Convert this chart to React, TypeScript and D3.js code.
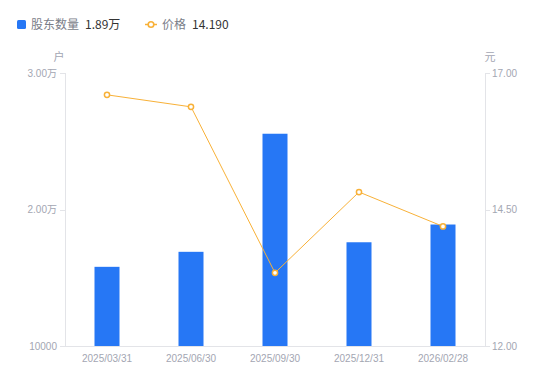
import React from "react";
import * as d3 from "d3";

const categories = ["2025/03/31", "2025/06/30", "2025/09/30", "2025/12/31", "2026/02/28"];
const holders = [15800, 16900, 25550, 17600, 18900];
const prices = [16.6, 16.38, 13.34, 14.82, 14.19];
const leftTicks = [10000, 20000, 30000];
const leftTickLabels = ["10000", "2.00万", "3.00万"];
const rightTicks = [12, 14.5, 17];
const rightTickLabels = ["12.00", "14.50", "17.00"];

const W = 550, H = 381;
const M = { left: 65, right: 485, top: 73, bottom: 346 };
const FONT = "'Noto Sans CJK SC', 'Noto Sans', sans-serif";
const AXFONT = "'Liberation Sans', Arial, 'Noto Sans CJK SC', sans-serif";
const BLUE = "#2677f5";
const ORANGE = "#f8b138";
const AXIS = "#e3e4e8";
const TICKTXT = "#a3a6b2";

export default function App() {
  const x = d3.scaleBand().domain(categories).range([M.left, M.right]);
  const yL = d3.scaleLinear().domain([10000, 30000]).range([M.bottom, M.top]);
  const yR = d3.scaleLinear().domain([12, 17]).range([M.bottom, M.top]);
  const bw = 25;
  const cx = (c: string) => (x(c) as number) + x.bandwidth() / 2;
  const line = d3.line<number>().x((_, i) => cx(categories[i])).y((d) => yR(d));

  return (
    <svg width={W} height={H} style={{ position: "absolute", left: 0, top: 0 }} fontFamily={FONT}>
      {/* legend */}
      <rect x={17} y={20} width={9} height={9} rx={1.5} fill={BLUE} />
      <text x={31} y={29} fontSize={12} fill="#7a7d88">股东数量</text>
      <text x={85} y={29} fontSize={12} fill="#333">1.89万</text>
      <line x1={145} x2={157} y1={24.5} y2={24.5} stroke={ORANGE} strokeWidth={1.5} />
      <circle cx={151} cy={24.5} r={2.8} fill="#fff" stroke={ORANGE} strokeWidth={1.6} />
      <text x={162} y={29} fontSize={12} fill="#7a7d88">价格</text>
      <text x={192} y={29} fontSize={12} fill="#333">14.190</text>

      {/* unit labels */}
      <text x={59} y={61} fontSize={11} fill={TICKTXT} textAnchor="middle">户</text>
      <text x={490} y={61} fontSize={11} fill={TICKTXT} textAnchor="middle">元</text>

      {/* axes */}
      <line x1={M.left + 0.5} x2={M.left + 0.5} y1={M.top} y2={M.bottom} stroke={AXIS} />
      <line x1={M.right + 0.5} x2={M.right + 0.5} y1={M.top} y2={M.bottom} stroke={AXIS} />
      <line x1={M.left} x2={M.right} y1={M.bottom + 0.5} y2={M.bottom + 0.5} stroke={AXIS} />
      <g fontFamily={AXFONT}>
        {leftTicks.map((t, i) => (
          <g key={"l" + i}>
            <line x1={M.left - 5} x2={M.left} y1={Math.round(yL(t)) + 0.5} y2={Math.round(yL(t)) + 0.5} stroke={AXIS} />
            <text x={M.left - 8} y={yL(t) + 3.5} fontSize={10} fill={TICKTXT} textAnchor="end">{leftTickLabels[i]}</text>
          </g>
        ))}
        {rightTicks.map((t, i) => (
          <g key={"r" + i}>
            <line x1={M.right} x2={M.right + 5} y1={Math.round(yR(t)) + 0.5} y2={Math.round(yR(t)) + 0.5} stroke={AXIS} />
            <text x={M.right + 7} y={yR(t) + 3.5} fontSize={10} fill={TICKTXT} textAnchor="start">{rightTickLabels[i]}</text>
          </g>
        ))}
        {categories.map((c) => (
          <text key={c} x={cx(c)} y={362} fontSize={10} fill={TICKTXT} textAnchor="middle">{c}</text>
        ))}
      </g>

      {/* bars */}
      {holders.map((v, i) => (
        <rect key={i} x={cx(categories[i]) - bw / 2} y={yL(v)} width={bw} height={M.bottom - yL(v)} fill={BLUE} />
      ))}

      {/* price line */}
      <path d={line(prices) as string} fill="none" stroke={ORANGE} strokeWidth={1} />
      {prices.map((p, i) => (
        <circle key={i} cx={cx(categories[i])} cy={yR(p)} r={2.6} fill="#fff" stroke={ORANGE} strokeWidth={1.5} />
      ))}
    </svg>
  );
}
